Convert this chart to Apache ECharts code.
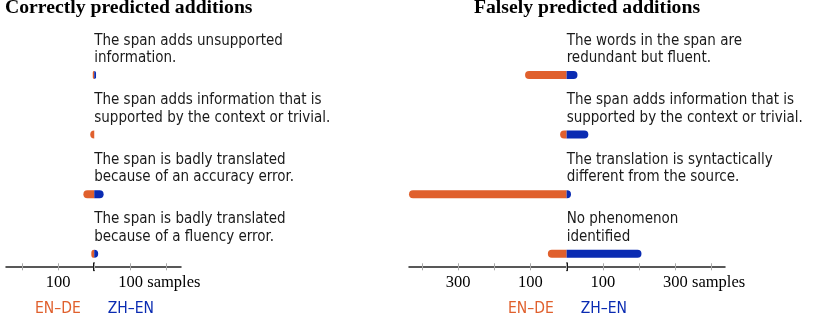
<!DOCTYPE html>
<html><head><meta charset="utf-8">
<script src="https://cdn.jsdelivr.net/npm/echarts@6/dist/echarts.min.js"></script>
<style>html,body{margin:0;padding:0;background:#fff}#c{width:830px;height:315px}</style>
</head><body><div id="c"></div>
<script>
// ---- data ----
const panelTitles = ['Correctly predicted additions', 'Falsely predicted additions'];
const seriesNames = ['EN–DE', 'ZH–EN'];
const correctCategories = [
  'The span adds unsupported\ninformation.',
  'The span adds information that is\nsupported by the context or trivial.',
  'The span is badly translated\nbecause of an accuracy error.',
  'The span is badly translated\nbecause of a fluency error.'
];
const correctEnDe = [4, 11, 30, 8];
const correctZhEn = [5, 0, 26, 11];
const falseCategories = [
  'The words in the span are\nredundant but fluent.',
  'The span adds information that is\nsupported by the context or trivial.',
  'The translation is syntactically\ndifferent from the source.',
  'No phenomenon\nidentified'
];
const falseEnDe = [115, 18, 436, 52];
const falseZhEn = [30, 60, 12, 207];
const correctTickValues = [-100, 100];
const correctTickLabels = ['100', '100'];
const falseTickValues = [-300, -100, 100, 300];
const falseTickLabels = ['300', '100', '100', '300'];
const tickUnit = 'samples';

// ---- styling / layout ----
const COLORS = ['#E0602D', '#0A2BB2'];
const SANS = "'DejaVu Sans Condensed','Liberation Sans Narrow','Arial Narrow',sans-serif";
const SERIF = "'Liberation Serif','Times New Roman',serif";
const BAR_TOP = 45.2, BAR_H = 238.4, AXIS_Y = 266.7, TICK_TOP = 263.3, TICK_H = 7;

const panels = [
  { cats: correctCategories, a: correctEnDe, b: correctZhEn, tv: correctTickValues, tl: correctTickLabels,
    left: 6, width: 175, min: -244, max: 240, tmin: -200, tmax: 200, titleLeft: 5, legendLeft: 30 },
  { cats: falseCategories, a: falseEnDe, b: falseZhEn, tv: falseTickValues, tl: falseTickLabels,
    left: 409, width: 316, min: -436, max: 438, tmin: -400, tmax: 400, titleLeft: 474, legendLeft: 503 }
];

const grid = [], xAxis = [], yAxis = [], series = [], title = [], legend = [];
panels.forEach((p, i) => {
  const scale = p.width / (p.max - p.min);
  const center = p.left + (-p.min) * scale;
  const tLeft = p.left + (p.tmin - p.min) * scale;
  const tWidth = (p.tmax - p.tmin) * scale;
  const g0 = grid.length;
  grid.push({ left: p.left, width: p.width, top: BAR_TOP, height: BAR_H, containLabel: false, outerBoundsMode: 'none' });
  grid.push({ left: tLeft, width: tWidth, top: TICK_TOP, height: TICK_H, containLabel: false, outerBoundsMode: 'none' });
  const x0 = xAxis.length;
  xAxis.push({ gridIndex: g0, type: 'value', min: p.min, max: p.max,
    offset: AXIS_Y - (BAR_TOP + BAR_H),
    axisLine: { show: true, onZero: false, lineStyle: { color: '#222', width: 1.5 } },
    axisTick: { show: false }, axisLabel: { show: false }, splitLine: { show: false } });
  xAxis.push({ gridIndex: g0 + 1, type: 'value', min: p.tmin, max: p.tmax, interval: 100,
    axisLine: { show: false, onZero: false },
    axisTick: { show: true, inside: true, length: TICK_H, lineStyle: { color: '#aaa', width: 1 } },
    splitLine: { show: false },
    axisLabel: { show: true, margin: 4, color: '#000', fontFamily: SERIF, fontSize: 16.5,
      showMinLabel: true, showMaxLabel: true, hideOverlap: false,
      formatter: (v) => {
        const k = p.tv.indexOf(v);
        if (k < 0) return '';
        if (k === p.tv.length - 1) return '{pad| }{n|' + p.tl[k] + '}{s| ' + tickUnit + '}';
        return '{n|' + p.tl[k] + '}';
      },
      rich: {
        n: { fontFamily: SERIF, fontSize: 16.5, color: '#000' },
        s: { fontFamily: SERIF, fontSize: 16.5, color: '#000' },
        pad: { fontFamily: SERIF, fontSize: 16.5, width: 58 }
      } } });
  const y0 = yAxis.length;
  yAxis.push({ gridIndex: g0, type: 'category', inverse: true, data: p.cats,
    offset: -(center - p.left),
    axisLine: { show: false, onZero: false }, axisTick: { show: false }, splitLine: { show: false },
    axisLabel: { inside: true, margin: 0, align: 'left', verticalAlign: 'bottom',
      padding: [0, 0, 8, 0], lineHeight: 17.5, fontFamily: SANS, fontSize: 15, color: '#1a1a1a' } });
  yAxis.push({ gridIndex: g0 + 1, type: 'value', min: 0, max: 1,
    axisLine: { show: true, onZero: true, lineStyle: { color: '#111', width: 2 } },
    axisTick: { show: false }, axisLabel: { show: false }, splitLine: { show: false } });
  series.push({ name: seriesNames[0], type: 'bar', xAxisIndex: x0, yAxisIndex: y0,
    data: p.a.map(v => -v), barWidth: 8, barGap: '-100%', silent: true,
    itemStyle: { color: COLORS[0], borderRadius: [4, 0, 0, 4] } });
  series.push({ name: seriesNames[1], type: 'bar', xAxisIndex: x0, yAxisIndex: y0,
    data: p.b.slice(), barWidth: 8, barGap: '-100%', silent: true,
    itemStyle: { color: COLORS[1], borderRadius: [0, 4, 4, 0] } });
  title.push({ text: panelTitles[i], left: p.titleLeft, top: -2, padding: 0,
    textStyle: { fontFamily: SERIF, fontWeight: 'bold', fontSize: 19.7, color: '#000' } });
  legend.push({ left: p.legendLeft, top: 301, itemWidth: 0, itemHeight: 0, itemGap: 22, padding: 0,
    selectedMode: false, icon: 'rect',
    data: seriesNames.map((n, k) => ({ name: n, textStyle: { color: COLORS[k] } })),
    textStyle: { fontFamily: SANS, fontSize: 15.5 } });
});

const chart = echarts.init(document.getElementById('c'), null, { renderer: 'canvas' });
chart.setOption({ animation: false, backgroundColor: '#fff', title, legend, grid, xAxis, yAxis, series });
</script></body></html>
